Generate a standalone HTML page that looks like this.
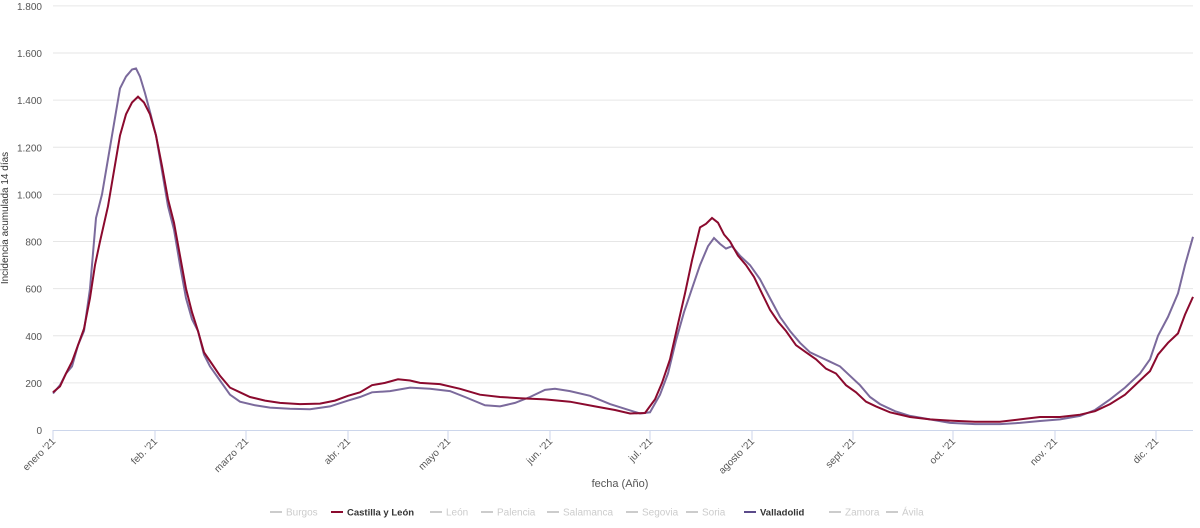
<!DOCTYPE html>
<html><head><meta charset="utf-8"><style>
body{margin:0;background:#fff;font-family:"Liberation Sans",sans-serif}
svg text{font-family:"Liberation Sans",sans-serif}
</style></head><body>
<svg id="s" width="1200" height="523" xmlns="http://www.w3.org/2000/svg">
<g id="grid"></g>
<text x="8" y="218" transform="rotate(-90 8 218)" text-anchor="middle" font-size="10" fill="#333">Incidencia acumulada 14 días</text>
<text x="620" y="487" text-anchor="middle" font-size="11" fill="#555">fecha (Año)</text>
<path id="pv" fill="none" stroke="#7b6a9c" stroke-width="2"/>
<path id="pr" fill="none" stroke="#8b0a2e" stroke-width="2"/>
<g fill="#ccc" id="leg"></g>
</svg>
<script>
const s=document.getElementById('s'),g=document.getElementById('grid'),NS='http://www.w3.org/2000/svg';
function el(t,a,p,txt){const e=document.createElementNS(NS,t);for(const k in a)e.setAttribute(k,a[k]);if(txt!=null)e.textContent=txt;(p||g).appendChild(e);return e;}
const Y=v=>430-v*0.2356;
for(let v=0;v<=1800;v+=200){const y=Y(v);if(v>0)el('line',{x1:53,x2:1193,y1:y,y2:y,stroke:'#e6e6e6'});
const lab=v>=1000?'1.'+String(v-1000).padStart(3,'0'):String(v);
el('text',{x:42,y:y+4,'text-anchor':'end','font-size':10,fill:'#555'},null,lab);}
el('line',{x1:53,x2:1193,y1:430.5,y2:430.5,stroke:'#ccd6eb'});
const m=[[53,"enero '21"],[155,"feb. '21"],[246,"marzo '21"],[348,"abr. '21"],[448,"mayo '21"],[550,"jun. '21"],[650,"jul. '21"],[752,"agosto '21"],[853,"sept. '21"],[953,"oct. '21"],[1055,"nov. '21"],[1156,"dic. '21"]];
m.forEach(([x,t])=>{el('line',{x1:x,x2:x,y1:430,y2:440,stroke:'#ccd6eb'});el('text',{x:x+3,y:442,'text-anchor':'end','font-size':10,fill:'#555',transform:`rotate(-45 ${x+3} 442)`},null,t);});
const red="53:160,60:185,66:240,72:290,78:360,84:430,90:560,95:700,100:800,108:950,114:1100,120:1250,126:1340,132:1390,138:1415,144:1390,150:1340,156:1250,162:1120,168:980,174:880,180:740,186:600,192:500,198:420,204:330,212:280,220:230,230:180,240:160,250:140,265:125,280:115,300:110,320:112,335:125,348:145,360:160,372:190,385:200,398:215,410:210,420:200,440:195,460:175,480:150,500:140,520:135,545:130,570:120,595:100,615:85,630:70,645:72,655:130,662:200,670:300,678:450,685:580,692:720,700:860,706:875,712:900,718:880,724:830,730:800,738:740,746:700,754:650,762:580,770:510,778:460,786:420,796:360,806:330,816:300,826:260,836:240,846:190,856:160,866:120,876:100,890:75,910:55,930:45,950:40,975:35,1000:35,1020:45,1040:55,1060:55,1080:65,1095:80,1110:110,1125:150,1140:210,1150:250,1158:320,1168:370,1178:410,1185:490,1193:565";
const pur="53:155,60:190,66:240,72:270,78:360,84:420,90:600,96:900,102:1000,108:1150,114:1300,120:1450,126:1500,132:1530,136:1535,140:1500,145:1430,150:1350,156:1250,162:1100,168:950,174:850,180:700,186:560,192:470,198:420,204:320,210:270,220:210,230:150,240:120,255:105,270:95,290:90,310:88,330:100,348:125,360:140,372:160,390:165,410:180,430:175,450:165,465:140,485:105,500:100,515:115,530:140,545:170,555:175,570:165,590:145,610:110,625:90,640:70,650:75,660:150,668:240,676:380,684:500,692:600,700:700,708:780,714:815,720:790,726:770,732:780,740:740,750:700,760:640,770:560,780:480,790:420,800:370,810:330,820:310,830:290,840:270,850:230,860:190,870:140,880:110,895:80,910:60,930:45,950:30,975:25,1000:25,1020:30,1040:38,1060:45,1080:60,1095:85,1110:130,1125:180,1140:240,1150:300,1158:400,1168:480,1178:580,1185:700,1193:820";
const P=str=>'M'+str.split(',').map(p=>{const[a,b]=p.split(':');return a+' '+Y(+b).toFixed(1)}).join(' L');
document.getElementById('pr').setAttribute('d',P(red));document.getElementById('pv').setAttribute('d',P(pur));
const L=document.getElementById('leg');
const items=[["Burgos",270,0],["Castilla y León",331,1],["León",430,0],["Palencia",481,0],["Salamanca",547,0],["Segovia",626,0],["Soria",686,0],["Valladolid",744,2],["Zamora",829,0],["Ávila",886,0]];
items.forEach(([t,x,k])=>{const c=k==1?'#8b0a2e':k==2?'#5b4a8a':'#ccc';el('line',{x1:x,x2:x+12,y1:512,y2:512,stroke:c,'stroke-width':2},L);
el('text',{x:x+16,y:515.5,'font-size':k?9.5:10,fill:k?'#333':'#ccc','font-weight':k?'bold':'normal'},L,t);});
</script>
</body></html>
